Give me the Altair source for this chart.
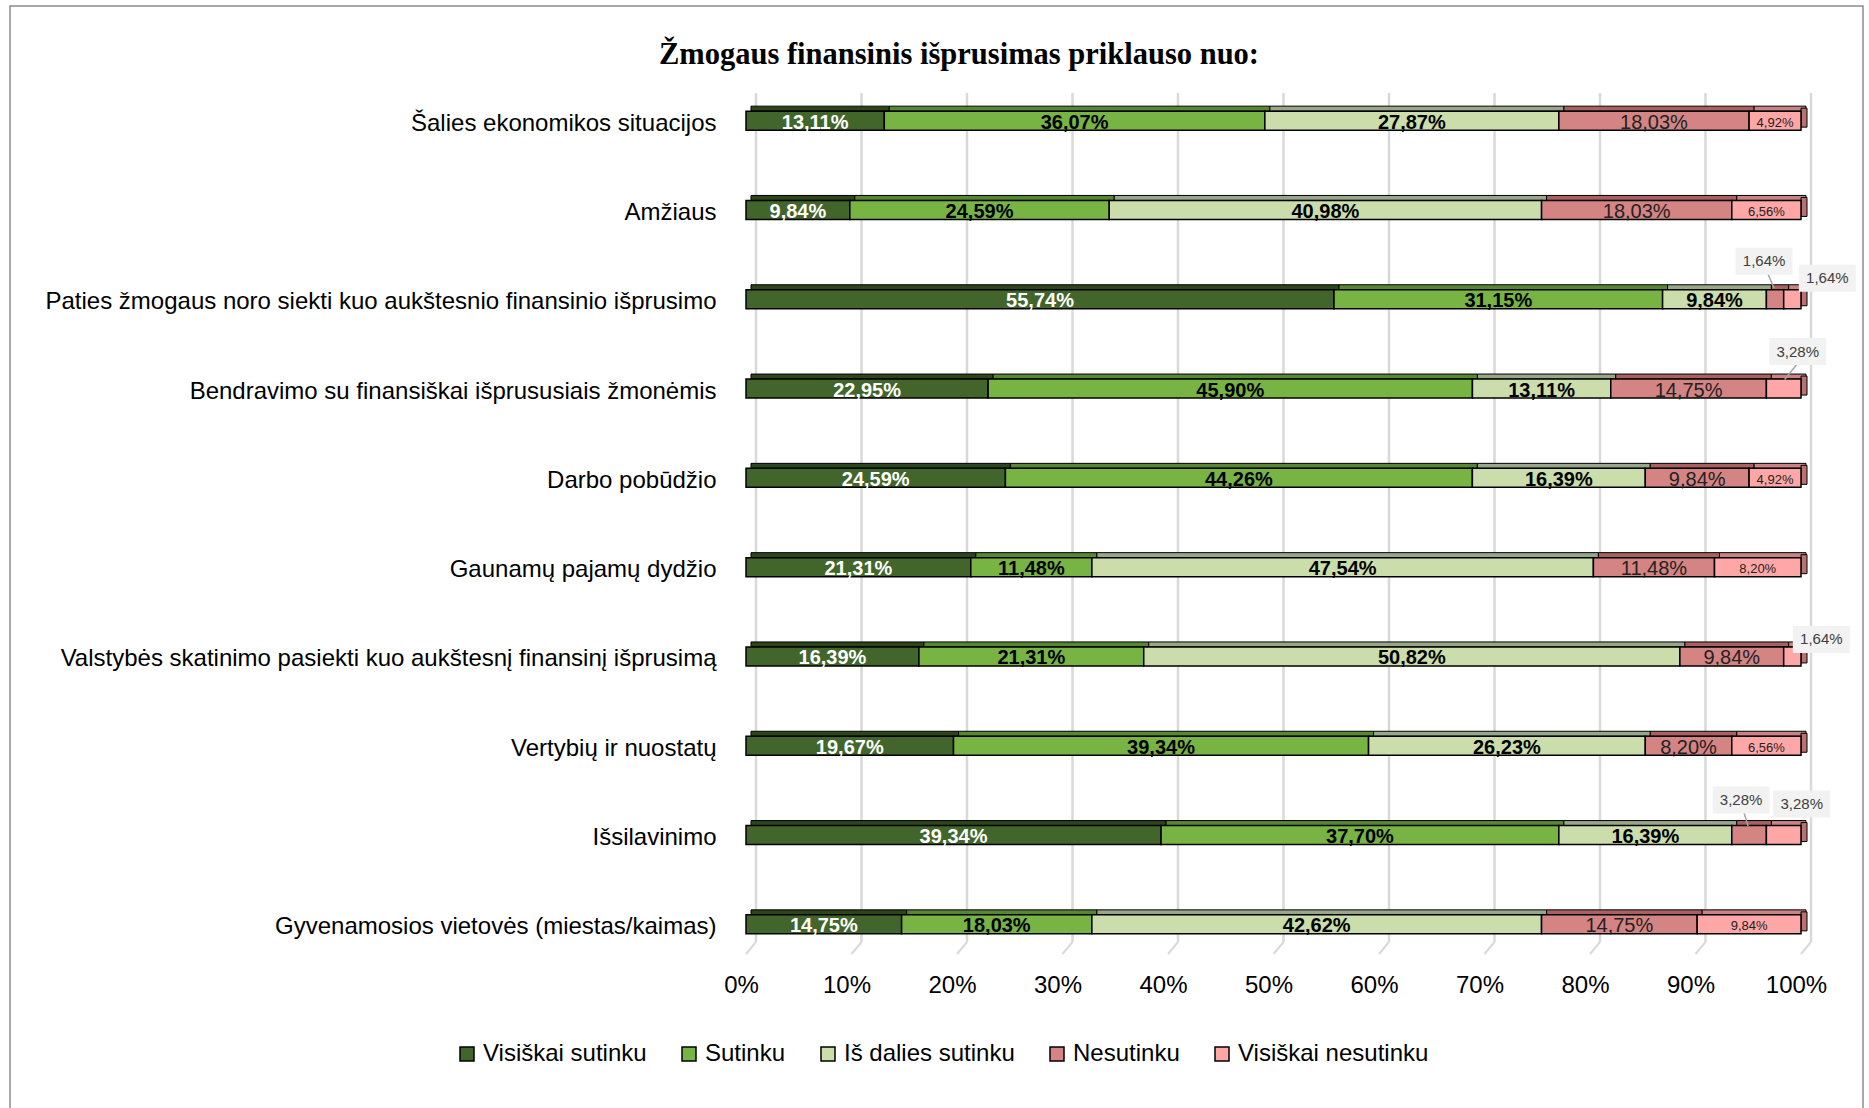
import altair as alt
import pandas as pd

categories = [
    "Šalies ekonomikos situacijos",
    "Amžiaus",
    "Paties žmogaus noro siekti kuo aukštesnio finansinio išprusimo",
    "Bendravimo su finansiškai išprususiais žmonėmis",
    "Darbo pobūdžio",
    "Gaunamų pajamų dydžio",
    "Valstybės skatinimo pasiekti kuo aukštesnį finansinį išprusimą",
    "Vertybių ir nuostatų",
    "Išsilavinimo",
    "Gyvenamosios vietovės (miestas/kaimas)",
]
series = ["Visiškai sutinku", "Sutinku", "Iš dalies sutinku", "Nesutinku", "Visiškai nesutinku"]

visiskai_sutinku = [13.11, 9.84, 55.74, 22.95, 24.59, 21.31, 16.39, 19.67, 39.34, 14.75]
sutinku = [36.07, 24.59, 31.15, 45.90, 44.26, 11.48, 21.31, 39.34, 37.70, 18.03]
is_dalies_sutinku = [27.87, 40.98, 9.84, 13.11, 16.39, 47.54, 50.82, 26.23, 16.39, 42.62]
nesutinku = [18.03, 18.03, 1.64, 14.75, 9.84, 11.48, 9.84, 8.20, 3.28, 14.75]
visiskai_nesutinku = [4.92, 6.56, 1.64, 3.28, 4.92, 8.20, 1.64, 6.56, 3.28, 9.84]

tick_values = [0.0, 0.1, 0.2, 0.3, 0.4, 0.5, 0.6, 0.7, 0.8, 0.9, 1.0]
title_text = "Žmogaus finansinis išprusimas priklauso nuo:"

colors_front = ["#41652A", "#77B443", "#CADDAA", "#D48483", "#FFA7A6"]
colors_top = ["#2C461C", "#578634", "#98A68A", "#A86160", "#C98383"]

FONT = "Liberation Sans Narrow, Arial Narrow, Liberation Sans, sans-serif"
W, H = 1055, 893

cols = [visiskai_sutinku, sutinku, is_dalies_sutinku, nesutinku, visiskai_nesutinku]
rows = []
for i, cat in enumerate(categories):
    vals = [c[i] for c in cols]
    total = sum(vals)
    cum = 0.0
    for j, (ser, v) in enumerate(zip(series, vals)):
        start = cum / total
        cum += v
        end = cum / total
        rows.append(dict(cat=cat, series=ser, order=j, value=v, start=start, end=end,
                         mid=(start + end) / 2,
                         label=f"{v:.2f}".replace(".", ",") + "%"))
df = pd.DataFrame(rows)
ticks_df = pd.DataFrame({"tick": tick_values})
one = pd.DataFrame({"a": [0]})

ysc = alt.Scale(paddingInner=0, paddingOuter=0)
Y_none = alt.Y("cat:N", sort=categories, scale=ysc, axis=None)
base = alt.Chart(df)

frame = alt.Chart(one).mark_rect(fill="transparent", stroke="#8c8c8c", strokeWidth=1.5).encode(
    x=alt.value(-736), x2=alt.value(1117), y=alt.value(-70), y2=alt.value(1110))

title = alt.Chart(one).mark_text(text=title_text, font="Liberation Serif", fontSize=30.5,
                                  fontWeight="bold", color="#000", align="center",
                                  baseline="middle").encode(x=alt.value(213), y=alt.value(-21))

grid = alt.Chart(ticks_df).mark_rule(color="#d9d9d9", strokeWidth=2.5, xOffset=10).encode(
    x=alt.X("tick:Q", scale=alt.Scale(domain=[0, 1], nice=False), axis=None),
    y=alt.value(17), y2=alt.value(866))
floor = alt.Chart(ticks_df).mark_rule(color="#d9d9d9", strokeWidth=2, xOffset=10, x2Offset=0).encode(
    x=alt.X("tick:Q", axis=None), x2=alt.X2("tick:Q"),
    y=alt.value(866), y2=alt.value(878))

strips = base.mark_bar(height=5, yOffset=-12, xOffset=5, x2Offset=5, stroke="#000", strokeWidth=1).encode(
    x=alt.X("start:Q", axis=None), x2="end:Q", y=Y_none,
    color=alt.Color("series:N", scale=alt.Scale(domain=series, range=colors_top), legend=None))

side = base.transform_filter(alt.datum.order == 4).mark_bar(
    height=19, yOffset=-3, x2Offset=6, color="#B87272", stroke="#000", strokeWidth=1).encode(
    x=alt.X("end:Q", axis=None), x2=alt.X2("end:Q"), y=Y_none)

front = base.mark_bar(height=19, stroke="#000", strokeWidth=1.5).encode(
    x=alt.X("start:Q", scale=alt.Scale(domain=[0, 1], nice=False),
            axis=alt.Axis(title=None, values=tick_values, format=".0%", grid=False, ticks=False,
                          domain=False, labelFont=FONT, labelFontSize=24, labelColor="#000",
                          labelPadding=4, labelFlush=False, labelOffset=-5)),
    x2="end:Q",
    y=alt.Y("cat:N", sort=categories, scale=ysc,
            axis=alt.Axis(title=None, labelFont=FONT, labelFontSize=24, labelColor="#000",
                          labelPadding=30, ticks=False, domain=False, labelLimit=0, labelOffset=3)),
    color=alt.Color("series:N", scale=alt.Scale(domain=series, range=colors_front),
                    legend=alt.Legend(title=None, orient="none", legendX=-291, legendY=966,
                                      direction="horizontal", symbolType="square", symbolSize=196,
                                      symbolStrokeColor="#000", symbolStrokeWidth=1.5,
                                      labelFont=FONT, labelFontSize=24, labelColor="#000",
                                      labelOffset=4, columnPadding=30, labelLimit=0)),
    order="order:Q")

inside = base.transform_filter(alt.datum.value >= 4)
text_layers = []
styles = [
    dict(color="#ffffff", fontWeight="bold", fontSize=20),
    dict(color="#000000", fontWeight="bold", fontSize=20),
    dict(color="#000000", fontWeight="bold", fontSize=20),
    dict(color="#222222", fontWeight="normal", fontSize=20),
    dict(color="#222222", fontWeight="normal", fontSize=13),
]
for j, st in enumerate(styles):
    text_layers.append(
        inside.transform_filter(alt.datum.order == j).mark_text(
            font=FONT, baseline="middle", align="center", dy=2, **st).encode(
            x=alt.X("mid:Q", axis=None), y=Y_none, text="label:N"))

# callouts: (row, series, box dx, box dy, leader (sx, sy, ex, ey) or None)
callouts = [
    (2, 3, -11, -38, (-7, -25, -1, -11)),
    (2, 4, 35, -21, None),
    (3, 4, 14, -37, (13, -24, 1, -9)),
    (6, 4, 29, -17, None),
    (8, 3, -8, -35, (-5, -22, -1, -9)),
    (8, 4, 18, -31, None),
]
box_path = "M-1,-0.474H1V0.474H-1Z"
callout_layers = []
for (ri, sj, dx, dy, leader) in callouts:
    sel = base.transform_filter((alt.datum.cat == categories[ri]) & (alt.datum.order == sj))
    if leader is not None:
        sx, sy, ex, ey = leader
        cx, cy = (sx + ex) / 2, (sy + ey) / 2
        r = 10.0
        p = f"M{(sx - cx) / r:.3f},{(sy - cy) / r:.3f}L{(ex - cx) / r:.3f},{(ey - cy) / r:.3f}"
        callout_layers.append(sel.mark_point(shape=p, size=400, filled=False, stroke="#a6a6a6",
                                             strokeWidth=1.5, opacity=1, xOffset=cx, yOffset=cy).encode(
            x=alt.X("mid:Q", axis=None), y=Y_none))
    callout_layers.append(sel.mark_point(shape=box_path, size=3249, filled=True, fill="#F2F2F2",
                                         strokeWidth=0, opacity=1, xOffset=dx, yOffset=dy).encode(
        x=alt.X("mid:Q", axis=None), y=Y_none))
    callout_layers.append(sel.mark_text(font=FONT, fontSize=15, color="#404040", dx=dx, dy=dy,
                                        baseline="middle", align="center").encode(
        x=alt.X("mid:Q", axis=None), y=Y_none, text="label:N"))

chart = alt.layer(frame, title, grid, floor, strips, side, front, *text_layers, *callout_layers).properties(
    width=W, height=H,
    autosize=alt.AutoSizeParams(type="none"),
    padding={"left": 746, "top": 76, "right": 68, "bottom": 139},
    background="#ffffff",
).resolve_scale(color="independent").resolve_axis(x="independent", y="independent").configure_view(stroke="transparent")

chart.save("out.html", embed_options={"renderer": "svg", "actions": False})
